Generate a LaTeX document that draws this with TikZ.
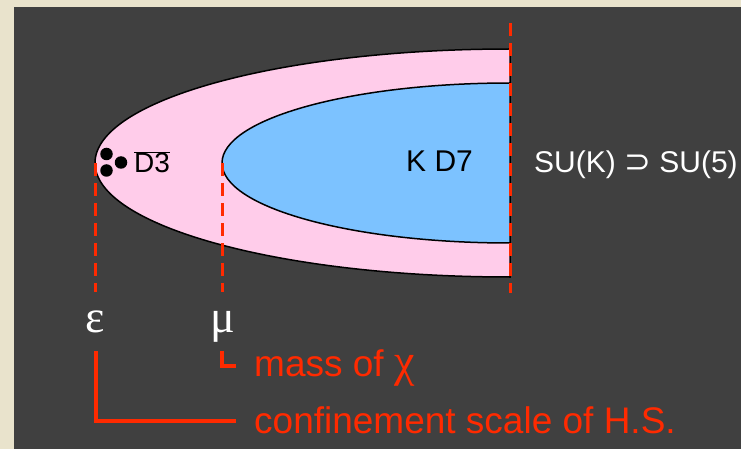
\documentclass[tikz,border=0pt]{standalone}
\usepackage{fontspec}
\setmainfont{Liberation Sans}
\newfontfamily\greekfont{Liberation Serif}
\newfontfamily\symbfont{DejaVu Sans}
\usepackage{tikz}
\usetikzlibrary{positioning}
\definecolor{beige}{HTML}{E9E3CC}
\definecolor{slate}{HTML}{404040}
\definecolor{palePink}{HTML}{FFCCEA}
\definecolor{skyBlue}{HTML}{7CC2FF}
\definecolor{flame}{HTML}{FF2A00}

\begin{document}
\begin{tikzpicture}[x=1pt,y=-1pt,
  cut/.style={draw=flame,line width=3pt,dash pattern=on 13pt off 7pt},
  lbar/.style={draw=flame,line width=4pt},
  wtxt/.style={text=white,inner sep=0pt,anchor=base west,font=\fontsize{30}{32}\selectfont},
  btxt/.style={text=black,inner sep=0pt,anchor=base west,font=\fontsize{30}{32}\selectfont},
  rtxt/.style={text=flame,inner sep=0pt,anchor=base west,font=\fontsize{37}{40}\selectfont},
  gtxt/.style={text=white,inner sep=0pt,anchor=base,font=\greekfont\fontsize{46}{48}\selectfont},
  brane/.style={circle,fill=black,inner sep=0pt,minimum size=12.5pt}
]
  \useasboundingbox (0,0) rectangle (741,449);
  \fill[beige] (0,0) rectangle (741,449);
  \fill[slate] (14,7) rectangle (741,449);
  % throats
  \filldraw[fill=palePink,draw=black,line width=1.5pt] (510,49)
    arc[start angle=270,end angle=90,x radius=415,y radius=114] -- cycle;
  \filldraw[fill=skyBlue,draw=black,line width=1.5pt] (510,83)
    arc[start angle=270,end angle=90,x radius=288,y radius=80] -- cycle;
  % scales
  \coordinate (tipO) at (95,163);
  \coordinate (tipI) at (222,163);
  \coordinate (wallT) at (510,23);
  \coordinate (wallB) at (510,293);
  \coordinate (footO) at (95,292);
  \coordinate (footI) at (222,292);
  \draw[cut] (tipO) -- (footO);
  \draw[cut] (tipI) -- (footI);
  \draw[cut] (wallT) -- (wallB);
  \node[brane] (b1) at (106.5,154) {};
  \node[brane] (b2) at (121,162.5) {};
  \node[brane] (b3) at (106.5,170.5) {};
  \node[btxt,font=\fontsize{28}{30}\selectfont] (d3) at (134,173) {$\overline{\mbox{D3}}$};
  \node[btxt] (d7) at (406,172) {K D7};
  \node[wtxt] (gauge) at (534,173) {SU(K) {\symbfont\fontsize{32}{34}\selectfont ⊃} SU(5)};
  \node[gtxt] (eps) at (95,332) {ε};
  \node[gtxt] (mu) at (223,332) {μ};
  \node[rtxt] (mass) at (254,376) {mass of {\greekfont\fontsize{46}{48}\selectfont χ}};
  \node[rtxt] (conf) at (254,433) {confinement scale of H.S.};
  \coordinate (massEnd) at (236,366);
  \coordinate (confEnd) at (236,421);
  \draw[lbar] (222,351) |- (massEnd);
  \draw[lbar] (96,351) |- (confEnd);
\end{tikzpicture}
\end{document}
